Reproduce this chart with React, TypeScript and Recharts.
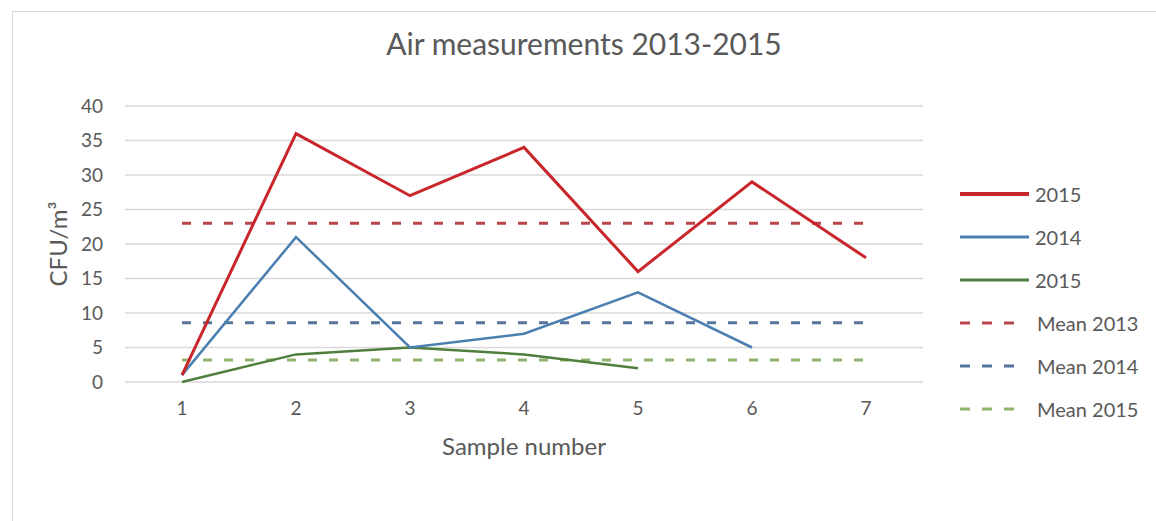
import React from 'react';
import { LineChart, Line, XAxis, YAxis, CartesianGrid, Legend, Label } from 'recharts';

const samples = ['1', '2', '3', '4', '5', '6', '7'];
const red2015 = [1, 36, 27, 34, 16, 29, 18];
const blue2014 = [1, 21, 5, 7, 13, 5, null];
const green2015 = [0, 4, 5, 4, 2, null, null];
const mean2013 = [23, 23, 23, 23, 23, 23, 23];
const mean2014 = [8.6, 8.6, 8.6, 8.6, 8.6, 8.6, 8.6];
const mean2015 = [3.2, 3.2, 3.2, 3.2, 3.2, 3.2, 3.2];
const yTicks = [0, 5, 10, 15, 20, 25, 30, 35, 40];

const FONT = 'Lato, "Open Sans", sans-serif';
const TEXT = '#595959';

const chartData = samples.map((s, i) => ({
  sample: s,
  red2015: red2015[i],
  blue2014: blue2014[i],
  green2015: green2015[i],
  mean2013: mean2013[i],
  mean2014: mean2014[i],
  mean2015: mean2015[i],
}));

const legendItems = [
  { label: '2015', color: '#c9262c', width: 4, dashed: false },
  { label: '2014', color: '#4a7fb0', width: 3, dashed: false },
  { label: '2015', color: '#4f7f3c', width: 3, dashed: false },
  { label: 'Mean 2013', color: '#b8454b', width: 3, dashed: true },
  { label: 'Mean 2014', color: '#55759c', width: 3, dashed: true },
  { label: 'Mean 2015', color: '#8fb36e', width: 3, dashed: true },
];

const CustomLegend: React.FC = () => (
  <div style={{ fontFamily: FONT, fontSize: 20, color: TEXT }}>
    {legendItems.map((it, i) => (
      <div key={i} style={{ height: 43, display: 'flex', alignItems: 'center' }}>
        <svg width={it.dashed ? 77 : 75} height={12}>
          <line
            x1={0}
            y1={6}
            x2={it.dashed ? 54 : 69}
            y2={6}
            stroke={it.color}
            strokeWidth={it.width}
            strokeDasharray={it.dashed ? '10 12' : undefined}
          />
        </svg>
        <span>{it.label}</span>
      </div>
    ))}
  </div>
);

const YLabel: React.FC<any> = ({ viewBox }) => {
  const cx = 57;
  const cy = viewBox.y + viewBox.height / 2;
  return (
    <text x={cx} y={cy} transform={`rotate(-90 ${cx} ${cy})`} textAnchor="middle" dominantBaseline="central"
      fill={TEXT} fontFamily={FONT} fontSize={24}>
      CFU/m³
    </text>
  );
};

const App: React.FC = () => {
  return (
    <div style={{ position: 'absolute', left: 0, top: 0, width: 1156, height: 521, background: '#fff', overflow: 'hidden' }}>
      <div style={{ position: 'absolute', left: 12, top: 11, width: 1160, height: 530, border: '1px solid #d9d9d9' }} />
      <div style={{ position: 'absolute', left: 12, top: 25, width: 1144, textAlign: 'center', fontFamily: FONT, fontSize: 30, color: TEXT }}>
        Air measurements 2013-2015
      </div>
      <LineChart width={1156} height={521} data={chartData} margin={{ top: 106, right: 233, bottom: 59, left: 65 }}>
        <CartesianGrid vertical={false} stroke="#d9d9d9" strokeWidth={1.5} />
        <XAxis dataKey="sample" height={80} axisLine={false} tickLine={false} tickMargin={14}
          padding={{ left: 57, right: 57 }}
          tick={{ fill: TEXT, fontFamily: FONT, fontSize: 19 }}>
          <Label value="Sample number" position="insideBottom" offset={7} fill={TEXT} fontFamily={FONT} fontSize={24} />
        </XAxis>
        <YAxis width={60} domain={[0, 40]} ticks={yTicks} axisLine={false} tickLine={false} tickMargin={16}
          tick={{ fill: TEXT, fontFamily: FONT, fontSize: 19 }}>
          <Label content={<YLabel />} />
        </YAxis>
        <Legend layout="horizontal" align="center" verticalAlign="middle" content={<CustomLegend />}
          wrapperStyle={{ left: 960, top: 172, width: 196, height: 260 }} />
        <Line dataKey="mean2013" stroke="#b8454b" strokeWidth={3} strokeDasharray="9 12" dot={false} isAnimationActive={false} />
        <Line dataKey="mean2014" stroke="#55759c" strokeWidth={3} strokeDasharray="9 12" dot={false} isAnimationActive={false} />
        <Line dataKey="mean2015" stroke="#8fb36e" strokeWidth={3} strokeDasharray="9 12" dot={false} isAnimationActive={false} />
        <Line dataKey="green2015" stroke="#4f7f3c" strokeWidth={2.5} dot={false} isAnimationActive={false} />
        <Line dataKey="blue2014" stroke="#4a7fb0" strokeWidth={2.5} dot={false} isAnimationActive={false} />
        <Line dataKey="red2015" stroke="#c9262c" strokeWidth={3} dot={false} isAnimationActive={false} />
      </LineChart>
    </div>
  );
};

export default App;
